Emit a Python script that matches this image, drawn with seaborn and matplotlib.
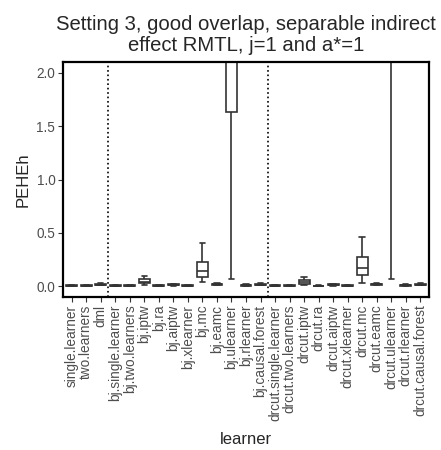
import pandas as pd
import matplotlib
matplotlib.use("Agg")
import matplotlib.pyplot as plt
import seaborn as sns

# learners in plotting order
learners = [
    "single.learner", "two.learners", "dml",
    "bj.single.learner", "bj.two.learners", "bj.iptw", "bj.ra", "bj.aiptw",
    "bj.xlearner", "bj.mc", "bj.eamc", "bj.ulearner", "bj.rlearner",
    "bj.causal.forest",
    "drcut.single.learner", "drcut.two.learners", "drcut.iptw", "drcut.ra",
    "drcut.aiptw", "drcut.xlearner", "drcut.mc", "drcut.eamc",
    "drcut.ulearner", "drcut.rlearner", "drcut.causal.forest",
]

# box summaries (whisker low, q1, median, q3, whisker high)
w_low = [0.002, 0.002, 0.008, 0.002, 0.002, 0.015, 0.001, 0.006, 0.001, 0.04,
         0.010, 0.065, 0.003, 0.008, 0.001, 0.001, 0.010, 0.001, 0.006, 0.001,
         0.035, 0.010, 0.065, 0.003, 0.008]
q1 = [0.004, 0.004, 0.012, 0.004, 0.004, 0.030, 0.003, 0.010, 0.003, 0.09,
      0.016, 1.63, 0.006, 0.012, 0.003, 0.003, 0.025, 0.003, 0.010, 0.003,
      0.11, 0.016, 2.5, 0.006, 0.012]
med = [0.006, 0.006, 0.016, 0.006, 0.006, 0.045, 0.005, 0.014, 0.005, 0.14,
       0.020, 2.6, 0.009, 0.016, 0.005, 0.005, 0.040, 0.005, 0.014, 0.005,
       0.17, 0.020, 3.2, 0.009, 0.016]
q3 = [0.008, 0.009, 0.020, 0.008, 0.009, 0.065, 0.008, 0.018, 0.008, 0.23,
      0.025, 3.5, 0.012, 0.020, 0.008, 0.008, 0.060, 0.007, 0.018, 0.008,
      0.27, 0.025, 4.0, 0.012, 0.020]
w_high = [0.012, 0.013, 0.028, 0.012, 0.013, 0.10, 0.012, 0.026, 0.012, 0.41,
          0.035, 5.0, 0.018, 0.028, 0.012, 0.012, 0.09, 0.011, 0.026, 0.012,
          0.46, 0.035, 5.5, 0.018, 0.028]

rows = []
for i, name in enumerate(learners):
    for v in (w_low[i], q1[i], med[i], q3[i], w_high[i]):
        rows.append({"learner": name, "PEHEh": v})
df = pd.DataFrame(rows)

sns.set_style("white")
plt.rcParams["font.family"] = ["Liberation Sans", "DejaVu Sans"]

fig = plt.figure(figsize=(4.41, 4.5), dpi=100)
ax = fig.add_axes([63 / 441, 1 - 297 / 450, (429 - 63) / 441, (297 - 62) / 450])

sns.boxplot(
    data=df, x="learner", y="PEHEh", order=learners, whis=(0, 100),
    width=0.75, color="white", linecolor="#333333", linewidth=1.2,
    fliersize=0, ax=ax,
)

# group separators
ax.axvline(2.5, color="black", linestyle=":", linewidth=1.2)
ax.axvline(13.5, color="black", linestyle=":", linewidth=1.2)

ax.set_ylim(-0.1, 2.1)
ax.set_xlim(-0.6, len(learners) - 0.4)
ax.set_yticks([0.0, 0.5, 1.0, 1.5, 2.0])
ax.set_yticklabels(["0.0", "0.5", "1.0", "1.5", "2.0"])
ax.tick_params(axis="both", colors="#333333", labelcolor="#4D4D4D",
               labelsize=9.8, length=3.5, width=0.8, left=True, bottom=True,
               pad=2)
plt.setp(ax.get_xticklabels(), rotation=90)

for s in ax.spines.values():
    s.set_color("black")
    s.set_linewidth(1.6)

ax.set_title("Setting 3, good overlap, separable indirect\neffect RMTL, j=1 and a*=1",
             fontsize=14.6, pad=8, linespacing=1.1)
ax.set_xlabel("learner", fontsize=12, labelpad=8)
ax.set_ylabel("PEHEh", fontsize=12, labelpad=4)

fig.savefig("out.png", dpi=100)
